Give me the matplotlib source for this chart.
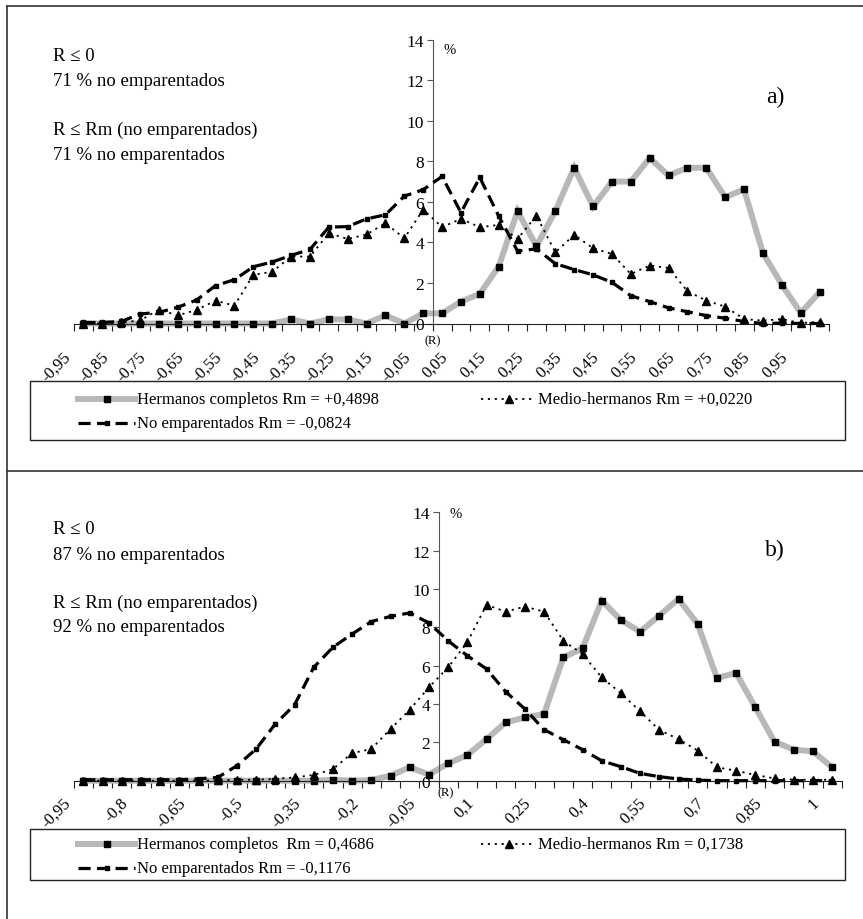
import numpy as np
import matplotlib
matplotlib.use("Agg")
import matplotlib.pyplot as plt
from matplotlib.lines import Line2D
from matplotlib.patches import Rectangle
from matplotlib.transforms import ScaledTranslation

plt.rcParams['font.family'] = ['Liberation Serif', 'DejaVu Serif']

# class centres of R (40 classes)
r_bins = [-0.95, -0.90, -0.85, -0.80, -0.75, -0.70, -0.65, -0.60, -0.55, -0.50,
          -0.45, -0.40, -0.35, -0.30, -0.25, -0.20, -0.15, -0.10, -0.05, 0.00,
          0.05, 0.10, 0.15, 0.20, 0.25, 0.30, 0.35, 0.40, 0.45, 0.50,
          0.55, 0.60, 0.65, 0.70, 0.75, 0.80, 0.85, 0.90, 0.95, 1.00]

# panel a)
hc_a = [0, 0, 0, 0, 0, 0, 0, 0, 0, 0,
        0, 0.2, 0, 0.2, 0.2, 0, 0.4, 0, 0.5, 0.5,
        1.08, 1.46, 2.81, 5.54, 3.81, 5.54, 7.68, 5.77, 7.0, 7.0,
        8.16, 7.3, 7.68, 7.68, 6.23, 6.61, 3.47, 1.92, 0.52, 1.54]
mh_a = [0.0, 0.0, 0.05, 0.15, 0.68, 0.4, 0.67, 1.13, 0.88, 2.4,
        2.55, 3.3, 3.3, 4.45, 4.17, 4.39, 4.95, 4.2, 5.62, 4.75,
        5.16, 4.75, 4.86, 4.17, 5.32, 3.51, 4.37, 3.71, 3.43, 2.44,
        2.86, 2.74, 1.59, 1.13, 0.83, 0.22, 0.14, 0.22, 0.02, 0.09]
ne_a = [0.05, 0.05, 0.1, 0.47, 0.55, 0.8, 1.16, 1.87, 2.16, 2.8,
        3.03, 3.36, 3.65, 4.75, 4.78, 5.16, 5.36, 6.28, 6.6, 7.25,
        5.47, 7.2, 5.3, 3.57, 3.68, 2.95, 2.66, 2.4, 2.03, 1.37,
        1.08, 0.77, 0.58, 0.39, 0.26, 0.1, 0.0, 0.02, 0.0, 0.0]

# panel b)
hc_b = [0, 0, 0, 0, 0, 0, 0, 0, 0, 0,
        0, 0, 0, 0.05, 0, 0.03, 0.26, 0.7, 0.32, 0.9,
        1.34, 2.17, 3.04, 3.3, 3.48, 6.43, 6.9, 9.39, 8.38, 7.77,
        8.61, 9.48, 8.17, 5.36, 5.62, 3.83, 2.03, 1.62, 1.53, 0.7]
mh_b = [0, 0, 0, 0, 0, 0, 0, 0.02, 0.05, 0.05,
        0.1, 0.17, 0.3, 0.6, 1.44, 1.65, 2.7, 3.7, 4.87, 5.91,
        7.22, 9.17, 8.82, 9.08, 8.82, 7.3, 6.61, 5.39, 4.56, 3.62,
        2.64, 2.17, 1.57, 0.7, 0.52, 0.3, 0.12, 0.05, 0.05, 0.05]
ne_b = [0.05, 0.05, 0.05, 0.05, 0.05, 0.05, 0.1, 0.17, 0.78, 1.65,
        2.96, 3.95, 5.91, 6.96, 7.65, 8.3, 8.57, 8.75, 8.23, 7.3,
        6.52, 5.83, 4.64, 3.74, 2.66, 2.14, 1.62, 1.04, 0.73, 0.38,
        0.21, 0.09, 0.03, 0, 0, 0, 0, 0, 0, 0]

labels_a = ['-0,95', '-0,85', '-0,75', '-0,65', '-0,55', '-0,45', '-0,35', '-0,25',
            '-0,15', '-0,05', '0,05', '0,15', '0,25', '0,35', '0,45', '0,55',
            '0,65', '0,75', '0,85', '0,95']
labels_b = ['-0,95', '-0,8', '-0,65', '-0,5', '-0,35', '-0,2', '-0,05', '0,1',
            '0,25', '0,4', '0,55', '0,7', '0,85', '1']

legend_a = ['Hermanos completos Rm = +0,4898', 'Medio-hermanos Rm = +0,0220',
            'No emparentados Rm = -0,0824']
legend_b = ['Hermanos completos  Rm = 0,4686', 'Medio-hermanos Rm = 0,1738',
            'No emparentados Rm = -0,1176']
notes_a = ['R \u2264 0', '71 % no emparentados', 'R \u2264 Rm (no emparentados)', '71 % no emparentados']
notes_b = ['R \u2264 0', '87 % no emparentados', 'R \u2264 Rm (no emparentados)', '92 % no emparentados']

W, H = 863, 920


def fx(px):
    return px / W


def fy(py):
    return 1 - py / H


GRAY = dict(color='#b8b8b8', lw=4.3, marker='s', ms=4.6, mfc='black', mec='black',
            solid_joinstyle='miter')
TRI = dict(color='black', lw=1.3, ls=(0, (1.2, 2.6)), marker='^', ms=5.2,
           mfc='black', mec='black')
DASH = dict(color='black', lw=2.3, ls=(0, (3.8, 2.0)), marker='s', ms=3.4,
            mfc='black', mec='black')

fig = plt.figure(figsize=(W / 100, H / 100), dpi=100)


def draw_panel(box, hc, mh, ne, labels, step, lab_dy, r_dx, r_dy, pct_xy, tag, tag_xy):
    ax = fig.add_axes(box)
    x = np.arange(len(r_bins))
    ax.plot(x, ne, clip_on=False, zorder=3, **DASH)
    ax.plot(x, mh, clip_on=False, zorder=4, **TRI)
    ax.plot(x, hc, clip_on=False, zorder=2, **GRAY)

    ax.set_xlim(-0.5, len(r_bins) - 0.5)
    ax.set_ylim(0, 14)
    for s in ['top', 'right']:
        ax.spines[s].set_visible(False)
    ax.spines['left'].set_position(('data', r_bins.index(0.0) - 0.5))
    ax.spines['left'].set_color('#555555')
    ax.spines['bottom'].set_color('#222222')
    ax.set_yticks(np.arange(0, 15, 2))
    ax.tick_params(axis='y', direction='out', length=4, pad=2, labelsize=12.5,
                   color='#555555')
    ax.set_xticks(np.arange(-0.5, len(r_bins)))
    ax.set_xticklabels([])
    ax.tick_params(axis='x', direction='out', length=5, color='#222222')
    ax.patch.set_visible(False)

    trans = ax.get_xaxis_transform() + ScaledTranslation(0, -lab_dy / 72, fig.dpi_scale_trans)
    for k, lab in enumerate(labels):
        ax.text(k * step - 0.8, 0, lab, transform=trans, rotation=45,
                rotation_mode='anchor', ha='right', va='center', fontsize=12)
    rtrans = ax.get_xaxis_transform() + ScaledTranslation(0, -r_dy / 72, fig.dpi_scale_trans)
    ax.text(r_bins.index(0.0) - 0.5 + r_dx, 0, '(R)', transform=rtrans, ha='center',
            va='center', fontsize=9)
    fig.text(fx(pct_xy[0]), fy(pct_xy[1]), '%', ha='center', va='center', fontsize=10.5)
    fig.text(fx(tag_xy[0]), fy(tag_xy[1]), tag, ha='center', va='center', fontsize=17)
    return ax


def draw_notes(notes, ys):
    for t, y in zip(notes, ys):
        fig.text(fx(53), fy(y), t, ha='left', va='center', fontsize=13.5)


def draw_legend(texts, top, bottom, row1, row2):
    fig.add_artist(Rectangle((fx(30), fy(bottom)), fx(845) - fx(30), fy(top) - fy(bottom),
                             transform=fig.transFigure, fill=False, ec='#222222', lw=1.0))
    entries = [(78, 135, row1, texts[0], GRAY),
               (481, 536, row1, texts[1], TRI),
               (78, 135, row2, texts[2], DASH)]
    for x0, x1, y, t, st in entries:
        xm = (x0 + x1) / 2
        fig.add_artist(Line2D([fx(x0), fx(xm), fx(x1)], [fy(y)] * 3,
                              transform=fig.transFigure, markevery=[1], **st))
        fig.text(fx(x1 + 2), fy(y), t, ha='left', va='center', fontsize=12)


# panel a
draw_panel([fx(74), fy(324.5), fx(829) - fx(74), (324.5 - 40.6) / H],
           hc_a, mh_a, ne_a, labels_a, 2, 22, 0, 12, (450, 50), 'a)', (775, 97))
draw_notes(notes_a, [56.7, 81.7, 130, 155])
draw_legend(legend_a, 382, 441, 400, 424)

# panel b
draw_panel([fx(73.7), fy(781.7), fx(841.7) - fx(73.7), (781.7 - 513.3) / H],
           hc_b, mh_b, ne_b, labels_b, 3, 14, 0.4, 8, (456, 515), 'b)', (775, 550))
draw_notes(notes_b, [530, 555, 603, 627])
draw_legend(legend_b, 830, 881, 845, 869)

# outer frame lines
frame = dict(transform=fig.transFigure, color='#333333', lw=1.2)
fig.add_artist(Line2D([fx(6.7), fx(6.7)], [fy(7.3), fy(920)], **frame))
fig.add_artist(Line2D([fx(6.7), fx(863)], [fy(7.3), fy(7.3)], **frame))
fig.add_artist(Line2D([fx(6.7), fx(863)], [fy(471.7), fy(471.7)], **frame))

fig.savefig('out.png', dpi=100, facecolor='white')
